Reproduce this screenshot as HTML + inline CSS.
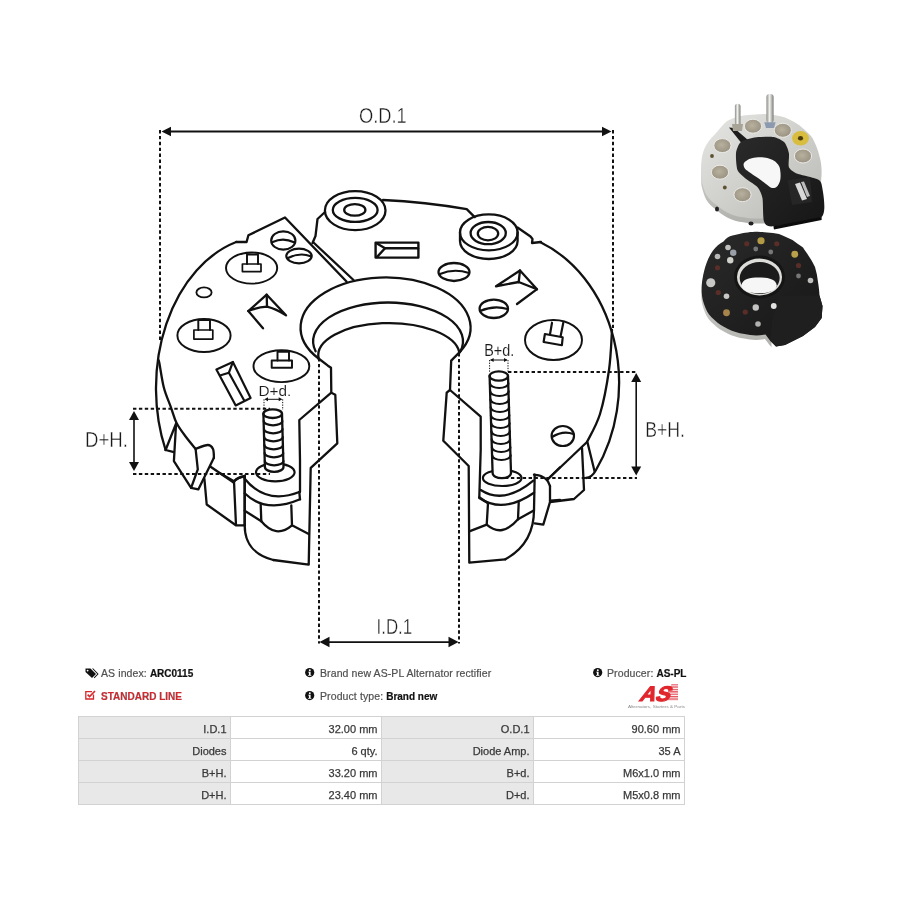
<!DOCTYPE html>
<html><head><meta charset="utf-8">
<style>
html,body{margin:0;padding:0;background:#fff;}
body{width:900px;height:900px;position:relative;overflow:hidden;font-family:"Liberation Sans",sans-serif;}
.t,table,svg{will-change:transform;}
svg{position:absolute;left:0;top:0;}
.t{position:absolute;white-space:nowrap;font-size:10.5px;letter-spacing:0.1px;line-height:12px;color:#505050;-webkit-text-stroke:0.2px #505050;}
.t b{color:#111;font-size:10px;letter-spacing:0;-webkit-text-stroke:0.2px #111;}
table{position:absolute;left:78px;top:716px;border-collapse:collapse;font-size:11px;color:#383838;-webkit-text-stroke:0.25px #383838;}
td{border:1px solid #d2d2d2;height:16.9px;padding:4px 3.5px 0 0;text-align:right;width:146.5px;background:#fff;line-height:12px;}
td.h{background:#e8e8e8;}
</style></head><body>
<svg width="900" height="900" viewBox="0 0 900 900">
<g fill="none" stroke="#111" stroke-linecap="round" stroke-linejoin="round">
<line x1="166" y1="131.5" x2="606" y2="131.5" stroke-width="1.8" />
<path d="M161.5,131.5 L171.0,126.7 L171.0,136.3Z" fill="#111" stroke="none"/>
<path d="M611.5,131.5 L602.0,126.7 L602.0,136.3Z" fill="#111" stroke="none"/>
<line x1="160" y1="130" x2="160" y2="342" stroke-width="2" stroke-dasharray="3.4,2.5" stroke-linecap="butt"/>
<line x1="613" y1="130" x2="613" y2="328" stroke-width="2" stroke-dasharray="3.4,2.5" stroke-linecap="butt"/>
<line x1="133" y1="408.7" x2="270" y2="408.7" stroke-width="2" stroke-dasharray="3.4,2.5" stroke-linecap="butt"/>
<line x1="133" y1="474" x2="270" y2="474" stroke-width="2" stroke-dasharray="3.4,2.5" stroke-linecap="butt"/>
<line x1="134" y1="416" x2="134" y2="466" stroke-width="1.6" />
<path d="M134,411 L129.0,420 L139.0,420Z" fill="#111" stroke="none"/>
<path d="M134,471 L129.0,462 L139.0,462Z" fill="#111" stroke="none"/>
<line x1="508" y1="372" x2="637" y2="372" stroke-width="2" stroke-dasharray="3.4,2.5" stroke-linecap="butt"/>
<line x1="505" y1="478" x2="637" y2="478" stroke-width="2" stroke-dasharray="3.4,2.5" stroke-linecap="butt"/>
<line x1="636.2" y1="378" x2="636.2" y2="470" stroke-width="1.6" />
<path d="M636.2,373 L631.2,382 L641.2,382Z" fill="#111" stroke="none"/>
<path d="M636.2,475.6 L631.2,466.6 L641.2,466.6Z" fill="#111" stroke="none"/>
<line x1="319" y1="358" x2="319" y2="643.5" stroke-width="2" stroke-dasharray="3.4,2.5" stroke-linecap="butt"/>
<line x1="459" y1="353" x2="459" y2="643.5" stroke-width="2" stroke-dasharray="3.4,2.5" stroke-linecap="butt"/>
<line x1="324" y1="642.1" x2="454" y2="642.1" stroke-width="1.8" />
<path d="M319.5,642.1 L329.5,636.85 L329.5,647.35Z" fill="#111" stroke="none"/>
<path d="M458.5,642.1 L448.5,636.85 L448.5,647.35Z" fill="#111" stroke="none"/>
<line x1="264" y1="399.3" x2="264" y2="410" stroke-width="1" stroke-dasharray="1.3,1.3" stroke-linecap="butt"/>
<line x1="282.7" y1="399.3" x2="282.7" y2="410" stroke-width="1" stroke-dasharray="1.3,1.3" stroke-linecap="butt"/>
<line x1="266" y1="399.3" x2="281" y2="399.3" stroke-width="1" />
<path d="M264.5,399.3 L268,397.3 L268,401.3Z" fill="#111" stroke="none"/>
<path d="M282.2,399.3 L278.7,397.3 L278.7,401.3Z" fill="#111" stroke="none"/>
<line x1="489.6" y1="360" x2="489.6" y2="372" stroke-width="1" stroke-dasharray="1.3,1.3" stroke-linecap="butt"/>
<line x1="508" y1="360" x2="508" y2="372" stroke-width="1" stroke-dasharray="1.3,1.3" stroke-linecap="butt"/>
<line x1="491" y1="360" x2="506.5" y2="360" stroke-width="1" />
<path d="M490.1,360 L493.6,358 L493.6,362Z" fill="#111" stroke="none"/>
<path d="M507.5,360 L504,358 L504,362Z" fill="#111" stroke="none"/>
<path d="M346.5,281.5 L285.0,217.5 L248.4,235.3 L246.6,242.0 L236.2,242.0" stroke-width="2.30" />
<path d="M236.2,242.0 A110.44,151.84 0 0 0 165.6,450.0" stroke-width="2.30" />
<path d="M158.3,360.0 C158.5,360.6 158.5,358.7 159.4,363.3 C160.3,367.9 162.0,380.4 163.9,387.8 C165.8,395.2 169.0,401.9 171.1,407.8 C173.2,413.7 174.2,418.4 176.7,423.3 C179.2,428.2 182.8,432.7 186.0,437.0 C189.2,441.3 194.0,446.9 195.6,448.9" stroke-width="2.30" />
<path d="M313.5,242.5 L353.5,280.0" stroke-width="2.30" />
<ellipse cx="283.3" cy="240.5" rx="12.1" ry="9.2" stroke-width="2.18"/>
<path d="M272.7,242 Q283.3,237 294,242.3" stroke-width="2.18" />
<ellipse cx="299" cy="256" rx="12.7" ry="7.3" stroke-width="2.18"/>
<path d="M288,258 Q300,252 310.7,256.3" stroke-width="2.18" />
<ellipse cx="251.6" cy="268" rx="25.6" ry="15.6" stroke-width="1.95"/>
<path d="M247.0,264.0 L247.0,254.4 L258.0,254.4 L258.0,264.0" stroke-width="1.95" />
<rect x="242.4" y="264" width="18.6" height="7.6" stroke-width="1.7"/>
<ellipse cx="204" cy="292.4" rx="7.6" ry="5" stroke-width="1.84"/>
<path d="M248.3,311 L266.7,294.7 L286,315.3 Q276,309 267,306.7 Q257,307.5 248.3,311Z" stroke-width="2.30" />
<path d="M266.7,294.7 L267.0,306.7" stroke-width="2.30" />
<path d="M248.3,311.0 L263.0,328.3" stroke-width="2.30" />
<ellipse cx="204" cy="335.5" rx="26.6" ry="16.5" stroke-width="1.95"/>
<path d="M198.3,330.0 L198.3,320.0 L210.0,320.0 L210.0,330.0" stroke-width="1.95" />
<rect x="193.9" y="330" width="18.9" height="9.1" stroke-width="1.7"/>
<ellipse cx="281.4" cy="366.2" rx="27.9" ry="15.9" stroke-width="1.95"/>
<path d="M277.5,360.5 L277.5,351.8 L289.0,351.8 L289.0,360.5" stroke-width="1.95" />
<rect x="271.7" y="360.5" width="20.3" height="7.2" stroke-width="1.95"/>
<path d="M216.4,369.4 L232.9,362.0 L250.6,398.1 L235.7,405.4Z" stroke-width="2.18" />
<path d="M220.7,375.2 L228.9,372.7 L232.9,362.0" stroke-width="2.18" />
<path d="M228.9,372.7 L244.2,400.5" stroke-width="2.18" />
<ellipse cx="355.2" cy="210.6" rx="30.3" ry="19.5" stroke-width="2.30"/>
<ellipse cx="355.2" cy="209.9" rx="22.4" ry="12" stroke-width="2.30"/>
<ellipse cx="354.8" cy="209.9" rx="10.6" ry="5.8" stroke-width="2.30"/>
<path d="M383,200 Q425,202 466.7,209.1 L474.7,217.1" stroke-width="2.30" />
<path d="M325.0,212.0 L317.5,219.0 L315.5,236.0 L312.5,243.0" stroke-width="2.30" />
<rect x="375.6" y="242.6" width="42.8" height="15" stroke-width="2.4"/>
<path d="M377.0,243.5 L385.0,248.3 L377.0,257.0" stroke-width="2.42" />
<path d="M385.0,248.3 L418.0,248.3" stroke-width="2.42" />
<ellipse cx="454" cy="272" rx="15.5" ry="9" stroke-width="2.30"/>
<path d="M440,274 Q454,268 469,273" stroke-width="2.18" />
<path d="M318.6,358.5 A84.97,50.19 0 1 1 459.4,352.4" stroke-width="2.30" />
<path d="M315.6,351.3 A74.94,38.85 0 1 1 460.5,351.3" stroke-width="2.30" />
<path d="M318.6,358.5 A70.69,32.41 0 0 1 459.4,352.4" stroke-width="2.30" />
<ellipse cx="488.8" cy="232.4" rx="28.8" ry="18" stroke-width="2.30"/>
<path d="M460,232.4 L460,241 A28.8,18 0 0 0 517.6,241 L517.6,232.4" stroke-width="2.30" />
<ellipse cx="488.2" cy="233.1" rx="17.6" ry="11.1" stroke-width="2.30"/>
<ellipse cx="488" cy="233.6" rx="10.2" ry="6.7" stroke-width="2.30"/>
<path d="M517.5,227.5 L530.5,236.5 L532.5,239.0 L532.0,243.0 L541.0,242.0" stroke-width="2.30" />
<path d="M540.0,242.0 A126.16,151.55 0 0 1 596.0,470.0 Q592,477.5 586,478" stroke-width="2.30" />
<path d="M612.0,330.0 C611.5,336.7 611.0,356.0 609.0,370.0 C607.0,384.0 603.7,402.0 600.0,414.0 C596.3,426.0 589.2,437.3 587.0,442.0" stroke-width="2.30" />
<path d="M587.0,442.0 L547.0,480.0" stroke-width="2.30" />
<path d="M582.0,448.0 L584.0,490.0 L574.0,499.0 L550.0,502.0" stroke-width="2.30" />
<path d="M587.5,442.5 L594.5,471.0" stroke-width="2.30" />
<ellipse cx="493.8" cy="308.8" rx="14.2" ry="9.2" stroke-width="2.30"/>
<path d="M480,311 Q494,305 507.5,309" stroke-width="2.18" />
<ellipse cx="562.8" cy="436" rx="11.2" ry="10" stroke-width="2.18"/>
<path d="M552,437 Q563,430 573.5,434" stroke-width="2.18" />
<path d="M496,286.3 L520,270.5 L537,289.3 L518.7,282 L496,286.3Z" stroke-width="2.30" />
<path d="M520.0,270.5 L518.7,282.0" stroke-width="2.30" />
<path d="M536.7,289.3 L517.0,304.0" stroke-width="2.30" />
<ellipse cx="553.5" cy="340" rx="28.5" ry="20" stroke-width="1.95"/>
<path d="M552.0,322.7 L550.0,334.3" stroke-width="2.18" />
<path d="M563.3,322.7 L560.7,335.8" stroke-width="2.18" />
<path d="M544.9,334.0 L562.7,337.3 L561.9,345.2 L543.6,342.0Z" stroke-width="2.18" />
<path d="M318.6,358.5 L327.9,365.7 L331.0,367.8 L331.3,392.7 L335.3,394.7 L337.3,443.3 L311.3,467.3 L310.7,468.0 L308.7,564.7 L273.3,560.0" stroke-width="2.30" />
<path d="M331.3,392.7 L299.3,420.0 L300.0,460.0 L300.0,492.0" stroke-width="2.30" />
<path d="M459.4,352.4 L451.2,360.6 L450.0,390.0 L446.7,392.7 L443.3,440.7 L468.7,466.0 L469.3,562.7 L505.3,559.3" stroke-width="2.30" />
<path d="M450.0,390.0 L480.7,416.7 L480.7,450.0 L479.3,497.3" stroke-width="2.30" />
<ellipse cx="275.3" cy="472.3" rx="19.3" ry="9" stroke-width="2.18"/>
<path d="M263.4,413.7 L264.9,467 A9.3,4.8 0 0 0 283.5,467 L282.0,413.7Z" fill="#fff" stroke="none"/>
<path d="M263.4,413.7 L264.9,467 A9.3,4.8 0 0 0 283.5,467 L282.0,413.7" stroke-width="2.3"/>
<ellipse cx="272.7" cy="413.7" rx="9.3" ry="4.3" stroke-width="2.30"/>
<path d="M263.72645403377106,421.0 A9.3,4.3 0 0 0 282.3264540337711,421.0" stroke-width="2.2"/>
<path d="M263.9515947467167,429.0 A9.3,4.3 0 0 0 282.5515947467167,429.0" stroke-width="2.2"/>
<path d="M264.17673545966227,437.0 A9.3,4.3 0 0 0 282.7767354596623,437.0" stroke-width="2.2"/>
<path d="M264.40187617260784,445.0 A9.3,4.3 0 0 0 283.00187617260787,445.0" stroke-width="2.2"/>
<path d="M264.6270168855535,453.0 A9.3,4.3 0 0 0 283.2270168855535,453.0" stroke-width="2.2"/>
<path d="M264.85215759849905,461.0 A9.3,4.3 0 0 0 283.45215759849907,461.0" stroke-width="2.2"/>
<ellipse cx="502.2" cy="478" rx="19.3" ry="8" stroke-width="2.18"/>
<path d="M489.6,376 L492.6,473 A9.2,5.2 0 0 0 511.0,473 L508.0,376Z" fill="#fff" stroke="none"/>
<path d="M489.6,376 L492.6,473 A9.2,5.2 0 0 0 511.0,473 L508.0,376" stroke-width="2.3"/>
<ellipse cx="498.8" cy="376" rx="9.2" ry="4.7" stroke-width="2.30"/>
<path d="M489.9711340206186,383.3 A9.2,4.7 0 0 0 508.37113402061857,383.3" stroke-width="2.2"/>
<path d="M490.21855670103093,391.3 A9.2,4.7 0 0 0 508.6185567010309,391.3" stroke-width="2.2"/>
<path d="M490.46597938144333,399.3 A9.2,4.7 0 0 0 508.8659793814433,399.3" stroke-width="2.2"/>
<path d="M490.7134020618557,407.3 A9.2,4.7 0 0 0 509.11340206185565,407.3" stroke-width="2.2"/>
<path d="M490.9608247422681,415.3 A9.2,4.7 0 0 0 509.36082474226805,415.3" stroke-width="2.2"/>
<path d="M491.2082474226804,423.3 A9.2,4.7 0 0 0 509.6082474226804,423.3" stroke-width="2.2"/>
<path d="M491.4556701030928,431.3 A9.2,4.7 0 0 0 509.8556701030928,431.3" stroke-width="2.2"/>
<path d="M491.70309278350516,439.3 A9.2,4.7 0 0 0 510.10309278350513,439.3" stroke-width="2.2"/>
<path d="M491.95051546391755,447.3 A9.2,4.7 0 0 0 510.35051546391753,447.3" stroke-width="2.2"/>
<path d="M492.1979381443299,455.3 A9.2,4.7 0 0 0 510.5979381443299,455.3" stroke-width="2.2"/>
<path d="M220.0,473.3 L234.0,481.3 L236.0,525.3 L244.7,525.3" stroke-width="2.30" />
<path d="M234,481.3 Q238,477 244.7,476" stroke-width="2.30" />
<path d="M244.7,476 L244.7,525.3 C244.7,545 255,555 273.3,560" stroke-width="2.30" />
<path d="M244.7,476.0 L244.7,525.3" stroke-width="2.30" />
<path d="M244.7,478.7 Q266,505 299.3,492" stroke-width="2.30" />
<path d="M244.7,493.3 Q266,514 300,499.3" stroke-width="2.30" />
<path d="M299.3,492.0 L300.0,499.3" stroke-width="2.30" />
<path d="M244.7,510.7 L261.3,521.3" stroke-width="2.30" />
<path d="M260.7,504.7 L261.3,521.3" stroke-width="2.30" />
<path d="M261.3,521.3 Q276,539 292,525.3" stroke-width="2.30" />
<path d="M291.3,505.3 L292.0,525.3 L308.7,534.0" stroke-width="2.30" />
<path d="M165.6,450.0 L176.1,423.3 L173.9,461.1 L191.1,487.8 L198.3,489.4 L213.9,457.8" stroke-width="2.30" />
<path d="M165.6,450.0 L173.9,452.2" stroke-width="2.30" />
<path d="M213.9,457.8 C213.8,456.3 214.0,451.1 213.0,449.0 C212.0,446.9 210.7,445.0 207.8,445.0 C204.9,445.0 197.6,448.2 195.6,448.9" stroke-width="2.30" />
<path d="M195.6,448.9 L197.8,469.4 L191.1,487.8" stroke-width="2.30" />
<path d="M210.6,466.7 L233.3,482.2" stroke-width="2.30" />
<path d="M233.3,482.2 Q238,477 244.4,476.7" stroke-width="2.30" />
<path d="M204.4,478.9 L206.7,504.5 L235.5,525.0" stroke-width="2.30" />
<path d="M480.7,490 Q504,505 533.3,480.7" stroke-width="2.30" />
<path d="M479.3,498 Q503,514 534,492.7" stroke-width="2.30" />
<path d="M479.3,497.3 L488.0,503.3" stroke-width="2.30" />
<path d="M488.0,503.3 L486.7,524.7" stroke-width="2.30" />
<path d="M518.7,502.7 L518.0,519.3" stroke-width="2.30" />
<path d="M486.7,524.7 Q502,538 518,519.3" stroke-width="2.30" />
<path d="M469.3,531.3 L486.7,524.7" stroke-width="2.30" />
<path d="M518.0,519.3 L533.3,510.7" stroke-width="2.30" />
<path d="M505.3,559.3 C524,549 534,532 534,510" stroke-width="2.30" />
<path d="M534.0,510.0 L534.7,474.7" stroke-width="2.30" />
<path d="M534.0,474.7 C535.2,474.9 538.8,475.1 541.0,476.0 C543.2,476.9 545.5,478.3 547.0,480.0 C548.5,481.7 549.5,485.0 550.0,486.0" stroke-width="2.30" />
<path d="M550.0,486.0 L550.0,502.0 L543.3,524.7 L534.7,523.3" stroke-width="2.30" />
<path d="M550.0,500.7 L560.0,500.0" stroke-width="2.30" />
<path d="M547.0,480.0 L560.0,467.3" stroke-width="2.30" />
</g>
<g font-family="Liberation Sans" fill="#1a1a1a" stroke="#fff" stroke-width="0.4" style="opacity:0.995">
<text x="359" y="123.2" font-size="22.5" textLength="47.8" lengthAdjust="spacingAndGlyphs">O.D.1</text>
<text x="85" y="447" font-size="21.3" textLength="43" lengthAdjust="spacingAndGlyphs">D+H.</text>
<text x="645.3" y="437" font-size="21.3" textLength="39.7" lengthAdjust="spacingAndGlyphs">B+H.</text>
<text x="376.5" y="633.9" font-size="21.3" textLength="35.7" lengthAdjust="spacingAndGlyphs">I.D.1</text>
<text x="258.5" y="396.2" font-size="15" textLength="32.8" lengthAdjust="spacingAndGlyphs" stroke-width="0.1">D+d.</text>
<text x="484.2" y="355.5" font-size="16" textLength="30" lengthAdjust="spacingAndGlyphs" stroke-width="0.1">B+d.</text>
</g>
<circle cx="309.7" cy="672.6" r="4.6" fill="#111"/><circle cx="309.8" cy="670.3000000000001" r="0.95" fill="#fff"/><path d="M308.2,671.7 L310.59999999999997,671.7 L310.59999999999997,675.1 L311.3,675.1 L311.3,675.8000000000001 L308.09999999999997,675.8000000000001 L308.09999999999997,675.1 L308.9,675.1 L308.9,672.6 L308.2,672.6Z" fill="#fff"/>
<circle cx="309.7" cy="695.6" r="4.6" fill="#111"/><circle cx="309.8" cy="693.3000000000001" r="0.95" fill="#fff"/><path d="M308.2,694.7 L310.59999999999997,694.7 L310.59999999999997,698.1 L311.3,698.1 L311.3,698.8000000000001 L308.09999999999997,698.8000000000001 L308.09999999999997,698.1 L308.9,698.1 L308.9,695.6 L308.2,695.6Z" fill="#fff"/>
<circle cx="597.7" cy="672.6" r="4.6" fill="#111"/><circle cx="597.8000000000001" cy="670.3000000000001" r="0.95" fill="#fff"/><path d="M596.2,671.7 L598.6,671.7 L598.6,675.1 L599.3000000000001,675.1 L599.3000000000001,675.8000000000001 L596.1,675.8000000000001 L596.1,675.1 L596.9000000000001,675.1 L596.9000000000001,672.6 L596.2,672.6Z" fill="#fff"/>
<path d="M85.5,668.5 L90.5,668.5 L96,674 L92,678 L85.5,672Z" fill="#111"/>
<circle cx="87.6" cy="670.6" r="0.9" fill="#fff"/>
<path d="M92,668.5 L93.3,668.5 L98.6,674 L94.5,678.2 L93.8,677.5 L97.3,674Z" fill="#111"/>
<path d="M93.5,694.5 L93.5,699 L85.8,699 L85.8,691.6 L92,691.6" fill="none" stroke="#d8262d" stroke-width="1.3"/>
<path d="M87.6,694.6 L89.6,696.6 L95,691" fill="none" stroke="#d8262d" stroke-width="1.6"/>
<defs><pattern id="str" width="4" height="2.4" patternUnits="userSpaceOnUse"><rect width="4" height="1.3" fill="#e3505a"/></pattern></defs>
<path d="M671.5,684.2 L678,684.2 L678,701 L663.5,701Z" fill="url(#str)"/>
<text x="0" y="0" font-family="Liberation Sans" font-weight="bold" font-size="21" fill="#e0262d" stroke="#e0262d" stroke-width="1.1" transform="translate(638.5,701) skewX(-22)" textLength="30.5" lengthAdjust="spacingAndGlyphs">AS</text>
<text x="628" y="707.8" font-family="Liberation Sans" font-size="4.2" fill="#8a8a8a" textLength="57" lengthAdjust="spacingAndGlyphs">Alternators, Starters &amp; Parts</text>
<defs>
<linearGradient id="silv" x1="0" y1="0" x2="1" y2="1">
<stop offset="0" stop-color="#e6e6e4"/><stop offset="0.45" stop-color="#d2d2cf"/><stop offset="1" stop-color="#b8b8b4"/></linearGradient>
<radialGradient id="diode" cx="0.45" cy="0.45" r="0.6"><stop offset="0" stop-color="#b9b19e"/><stop offset="1" stop-color="#989080"/></radialGradient>
<linearGradient id="blk" x1="0" y1="0" x2="1" y2="1"><stop offset="0" stop-color="#2a2a2a"/><stop offset="1" stop-color="#161616"/></linearGradient>
<linearGradient id="pin" x1="0" y1="0" x2="1" y2="0"><stop offset="0" stop-color="#8a8a86"/><stop offset="0.45" stop-color="#f2f2f0"/><stop offset="1" stop-color="#7a7a76"/></linearGradient>
<linearGradient id="rim" x1="0" y1="0" x2="0" y2="1"><stop offset="0" stop-color="#e8e8e6"/><stop offset="1" stop-color="#b0b0ac"/></linearGradient>
<clipPath id="rimclip"><rect x="690" y="230" width="82" height="130"/></clipPath>
</defs>
<path d="M728,120.6 C735,117 742,115.5 748,115 L764,114 C772,114.5 779,115.5 785,117.4 C791,120 796,122.5 799.7,125.4 C806,131 810,134 812.6,138.3 C816,145 818,150 819,154.4 C821,161 821.5,166 821.5,170.6 L820.7,182 L792,218 L761,218.5 C752,218.8 748,218.2 743.3,217.3 C738,216.5 732,215 727.2,212.4 C723,210 720,208 716,204.4 C712,202 709,199 706.3,194.7 C704.5,191 703,187 701.4,180.2 C701,175 701,170 701.4,162.5 C701.6,158 702.5,153 704.7,148 C707,143 710,139 714.3,135 C719,130 724,123 728,120.6Z" fill="url(#rim)" transform="translate(0,5)"/>
<ellipse cx="717" cy="209" rx="2" ry="2.5" fill="#222"/><ellipse cx="751" cy="223.5" rx="2.5" ry="2" fill="#222"/>
<path d="M728,120.6 C735,117 742,115.5 748,115 L764,114 C772,114.5 779,115.5 785,117.4 C791,120 796,122.5 799.7,125.4 C806,131 810,134 812.6,138.3 C816,145 818,150 819,154.4 C821,161 821.5,166 821.5,170.6 L820.7,182 L792,218 L761,218.5 C752,218.8 748,218.2 743.3,217.3 C738,216.5 732,215 727.2,212.4 C723,210 720,208 716,204.4 C712,202 709,199 706.3,194.7 C704.5,191 703,187 701.4,180.2 C701,175 701,170 701.4,162.5 C701.6,158 702.5,153 704.7,148 C707,143 710,139 714.3,135 C719,130 724,123 728,120.6Z" fill="url(#silv)"/>
<ellipse cx="753" cy="126.2" rx="8.6" ry="7" fill="url(#diode)" stroke="#efefed" stroke-width="0.9"/>
<ellipse cx="782.8" cy="130.3" rx="8.6" ry="7" fill="url(#diode)" stroke="#efefed" stroke-width="0.9"/>
<ellipse cx="722.4" cy="145.6" rx="8.6" ry="7" fill="url(#diode)" stroke="#efefed" stroke-width="0.9"/>
<ellipse cx="803" cy="156" rx="8.6" ry="7" fill="url(#diode)" stroke="#efefed" stroke-width="0.9"/>
<ellipse cx="720" cy="172.2" rx="8.6" ry="7" fill="url(#diode)" stroke="#efefed" stroke-width="0.9"/>
<ellipse cx="742.5" cy="194.7" rx="8.6" ry="7" fill="url(#diode)" stroke="#efefed" stroke-width="0.9"/>
<ellipse cx="800.5" cy="138.3" rx="8.4" ry="7.3" fill="#d9bd3e"/><ellipse cx="800.5" cy="138.3" rx="2.6" ry="2.2" fill="#4a3a10"/>
<circle cx="712" cy="156" r="1.9" fill="#5b5030"/><circle cx="724.8" cy="187.5" r="1.9" fill="#5b5030"/>
<path d="M729,127.5 L734,128 L748,140 L743,145Z" fill="#1c1c1c"/>
<path d="M736.0,153.2 C736.4,149.9 738.5,144.1 740.7,142.3 C742.9,140.4 750.9,138.2 754.7,137.6 C758.5,137.0 769.9,136.4 773.4,137.0 C776.8,137.5 782.5,140.4 784.3,142.3 C786.1,144.1 788.4,150.2 788.9,153.2 C789.5,156.1 788.0,164.8 788.9,167.2 C789.9,169.5 793.8,172.1 796.7,173.4 C799.6,174.7 810.9,176.8 813.9,178.1 C816.8,179.3 820.7,179.7 821.6,184.3 C822.5,188.8 827.3,212.1 821.6,217.0 C816.0,221.9 780.1,225.8 773.4,226.3 C766.7,226.8 765.3,224.9 764.0,221.6 C762.8,218.4 763.2,202.3 762.5,198.3 C761.8,194.3 759.6,189.6 757.8,187.4 C756.0,185.2 749.3,181.6 746.9,179.6 C744.6,177.6 738.9,173.4 737.6,170.3 C736.3,167.2 735.7,156.4 736.0,153.2Z" fill="url(#blk)"/>
<path d="M744.0,163.0 C744.9,161.5 747.7,159.8 750.0,158.8 C752.3,157.9 755.3,157.5 758.0,157.3 C760.7,157.1 763.3,157.2 766.0,157.8 C768.7,158.4 771.8,159.4 774.0,160.8 C776.2,162.2 777.9,164.0 779.0,166.0 C780.1,168.0 780.3,170.5 780.5,173.0 C780.7,175.5 780.6,178.8 780.0,181.0 C779.4,183.2 778.3,185.3 777.0,186.5 C775.7,187.7 773.8,188.4 772.0,188.0 C770.2,187.6 768.3,185.7 766.0,184.0 C763.7,182.3 760.8,180.0 758.0,178.0 C755.2,176.0 751.2,173.7 749.0,172.0 C746.8,170.3 745.3,169.5 744.5,168.0 C743.7,166.5 743.1,164.5 744.0,163.0Z" fill="#f7f7f7"/>
<path d="M787.4,180.2 L810.1,177.1 L812.0,202.0 L792.1,205.1Z" fill="#262626"/>
<path d="M795,184 L800,182.5 L807,199 L802,200.5Z" fill="#d8d8d8"/><path d="M801,182 L804,181.5 L810,196 L807,197Z" fill="#bdbdbd"/>
<path d="M773.4,226.3 L821.6,217 L821.6,220 L774,229.5Z" fill="#0c0c0c"/>
<rect x="734.9" y="103.7" width="5.6" height="26" rx="2.6" fill="url(#pin)"/>
<path d="M732,124 L743,124 L742,131 L733,131Z" fill="#a7a397"/>
<rect x="766.4" y="94" width="7.2" height="29" rx="3.2" fill="url(#pin)"/>
<path d="M764.3,122.2 L775.6,122.2 L774,127.9 L766,127.9Z" fill="#8c9ab0"/>
<path d="M723.5,241.5 C726,238 729,236.5 732.5,235.5 C742,233 749,232 755,231.75 C760,231.5 763,232 767,232.5 C771,233 775,233 779,234 C784,236 788,238 792.5,240 C796,243 800,245 803,247.5 C805,251 807,253 809,256.5 C812,261 813.5,264 815,267 C816.5,272 817.5,277 818,282 C819,288 819.3,292 819.5,295.5 L822.5,306 L821.7,318 L815,327 L803,336 L785,345 L776,346.5 L770,340.5 L765.5,334.5 C758,336 751,335.5 744.5,334 C738,333 733,331.5 728,329 C722,326 718,323.5 714.5,320 C710,316 707.5,313 705.5,308 C703,302 702,298 701.7,292 C701.6,287 701.8,283 702.5,279 C703.5,273 704.5,269 706.2,264 C708,259 710,254.5 713,250.5 C716,246.5 719.5,243.5 723.5,241.5Z" fill="url(#rim)" transform="translate(-0.5,4.5)" clip-path="url(#rimclip)"/>
<path d="M723.5,241.5 C726,238 729,236.5 732.5,235.5 C742,233 749,232 755,231.75 C760,231.5 763,232 767,232.5 C771,233 775,233 779,234 C784,236 788,238 792.5,240 C796,243 800,245 803,247.5 C805,251 807,253 809,256.5 C812,261 813.5,264 815,267 C816.5,272 817.5,277 818,282 C819,288 819.3,292 819.5,295.5 L822.5,306 L821.7,318 L815,327 L803,336 L785,345 L776,346.5 L770,340.5 L765.5,334.5 C758,336 751,335.5 744.5,334 C738,333 733,331.5 728,329 C722,326 718,323.5 714.5,320 C710,316 707.5,313 705.5,308 C703,302 702,298 701.7,292 C701.6,287 701.8,283 702.5,279 C703.5,273 704.5,269 706.2,264 C708,259 710,254.5 713,250.5 C716,246.5 719.5,243.5 723.5,241.5Z" fill="url(#blk)"/>
<path d="M779,295.5 L819.5,295.5 L822.5,306 L821.7,318 L815,327 L803,336 L785,345 L776,346.5 L770,340.5 L772,320Z" fill="#1f1f1f"/>
<ellipse cx="759.5" cy="277" rx="25.5" ry="21.5" fill="#151515"/>
<ellipse cx="759.5" cy="277" rx="22.5" ry="18.4" fill="#dcdcd8"/>
<ellipse cx="759.7" cy="278" rx="20" ry="16" fill="#1b1b1b"/>
<path d="M741.5,285.5 C742,279 750,277.5 759,277.5 C768,277.5 776,279 776.75,285.5 C776,291 768,293.25 759,293.25 C750,293.25 742,291 741.5,285.5Z" fill="#f6f6f6"/>
<circle cx="761" cy="240.75" r="3.6" fill="#b39a45"/>
<circle cx="794.75" cy="254.25" r="3.4" fill="#b9a04a"/>
<circle cx="726.5" cy="312.75" r="3.4" fill="#a6844a"/>
<circle cx="710.75" cy="282.75" r="4.6" fill="#c8c8c6"/>
<circle cx="730.25" cy="260.25" r="3.2" fill="#d0d0cc"/>
<circle cx="733.25" cy="252.75" r="3.2" fill="#9aa0a8"/>
<circle cx="755.75" cy="307.5" r="3.2" fill="#c4c4c2"/>
<circle cx="773.75" cy="306" r="2.9" fill="#e2e2e0"/>
<circle cx="758" cy="324" r="2.8" fill="#b0b0ae"/>
<circle cx="810.5" cy="280.5" r="2.8" fill="#bdbdbb"/>
<circle cx="728" cy="247.5" r="2.8" fill="#c0c0be"/>
<circle cx="717.5" cy="256.5" r="2.8" fill="#b8b8b6"/>
<circle cx="726.5" cy="296.25" r="2.8" fill="#c8c8c6"/>
<circle cx="746.75" cy="243.75" r="2.6" fill="#5a2e28"/>
<circle cx="717.5" cy="267.75" r="2.6" fill="#5a2e28"/>
<circle cx="718.25" cy="292.5" r="2.6" fill="#5a2e28"/>
<circle cx="745.25" cy="312" r="2.6" fill="#5a2e28"/>
<circle cx="776.75" cy="243.75" r="2.6" fill="#5a2e28"/>
<circle cx="798.5" cy="265.5" r="2.6" fill="#5a2e28"/>
<circle cx="755.75" cy="249" r="2.4" fill="#777"/>
<circle cx="770.75" cy="252" r="2.4" fill="#777"/>
<circle cx="798.5" cy="276" r="2.4" fill="#777"/>
</svg>
<div class="t" id="t1" style="left:101px;top:667px;">AS index: <b>ARC0115</b></div>
<div class="t" id="t2" style="left:101px;top:691px;color:#d8262d;font-weight:bold;font-size:10px;letter-spacing:0;">STANDARD LINE</div>
<div class="t" id="t3" style="left:319.6px;top:667px;">Brand new AS-PL Alternator rectifier</div>
<div class="t" id="t4" style="left:319.6px;top:690px;">Product type: <b>Brand new</b></div>
<div class="t" id="t5" style="left:606.7px;top:667px;">Producer: <b>AS-PL</b></div>
<table id="tbl">
<tr><td class="h" style="width:147.5px">I.D.1</td><td>32.00 mm</td><td class="h" style="width:147.5px">O.D.1</td><td>90.60 mm</td></tr>
<tr><td class="h" style="width:147.5px">Diodes</td><td>6 qty.</td><td class="h" style="width:147.5px">Diode Amp.</td><td>35 A</td></tr>
<tr><td class="h" style="width:147.5px">B+H.</td><td>33.20 mm</td><td class="h" style="width:147.5px">B+d.</td><td>M6x1.0 mm</td></tr>
<tr><td class="h" style="width:147.5px">D+H.</td><td>23.40 mm</td><td class="h" style="width:147.5px">D+d.</td><td>M5x0.8 mm</td></tr>

</table>
</body></html>
